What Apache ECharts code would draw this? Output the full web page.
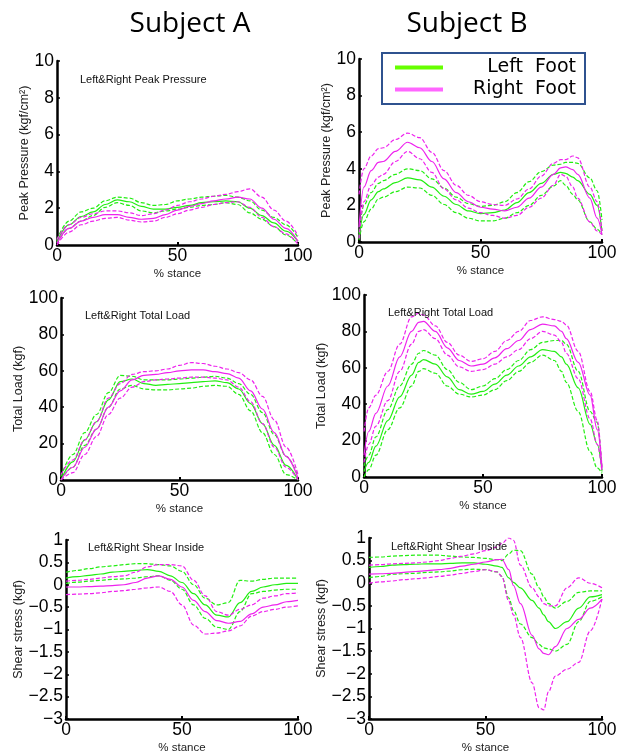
<!DOCTYPE html>
<html>
<head>
<meta charset="utf-8">
<script src="https://cdn.jsdelivr.net/npm/echarts@6/dist/echarts.min.js"></script>
<style>
html, body { margin: 0; padding: 0; background: #fff; }
#main { width: 626px; height: 755px; }
</style>
</head>
<body>
<div id="main"></div>
<script>
// % stance sample points
const stance = [0, 5, 10, 15, 20, 25, 30, 35, 40, 45, 50, 55, 60, 65, 70, 75, 80, 85, 90, 95, 100]
const stancePB = [0, 2, 5, 8, 10, 15, 20, 25, 30, 35, 40, 45, 50, 55, 60, 65, 70, 75, 80, 83, 85, 88, 90, 95, 98, 100]
const stanceLB = [0, 2, 5, 10, 15, 20, 23, 25, 30, 35, 40, 45, 50, 55, 60, 65, 70, 75, 80, 83, 85, 90, 95, 98, 100]
const stanceSB = [0, 5, 10, 15, 20, 25, 30, 35, 40, 45, 50, 55, 57, 60, 62, 65, 70, 73, 75, 77, 80, 85, 90, 95, 100]

// Subject A - peak pressure (kgf/cm2)
const ppA_left = [0.2, 1.1, 1.55, 1.8, 2.2, 2.45, 2.35, 2.1, 1.95, 1.95, 2.05, 2.15, 2.3, 2.35, 2.4, 2.35, 2.0, 1.6, 1.2, 0.75, 0.2]
const ppA_leftUp = [0.3, 1.3, 1.8, 2.0, 2.4, 2.6, 2.55, 2.3, 2.15, 2.2, 2.4, 2.5, 2.6, 2.65, 2.7, 2.6, 2.4, 1.9, 1.5, 1.1, 0.4]
const ppA_leftLo = [0.1, 0.9, 1.3, 1.6, 2.05, 2.3, 2.15, 1.85, 1.75, 1.85, 1.95, 2.05, 2.15, 2.2, 2.3, 2.2, 1.75, 1.4, 1.0, 0.55, 0.05]
const ppA_right = [0.1, 0.9, 1.3, 1.5, 1.65, 1.65, 1.5, 1.4, 1.45, 1.65, 1.9, 2.1, 2.25, 2.4, 2.5, 2.6, 2.5, 2.0, 1.4, 0.9, 0.2]
const ppA_rightUp = [0.3, 1.1, 1.5, 1.7, 1.85, 1.85, 1.75, 1.6, 1.7, 1.9, 2.15, 2.35, 2.5, 2.65, 2.75, 2.9, 3.05, 2.6, 1.9, 1.3, 0.5]
const ppA_rightLo = [0.0, 0.7, 1.1, 1.3, 1.45, 1.5, 1.35, 1.25, 1.3, 1.5, 1.7, 1.9, 2.05, 2.2, 2.3, 2.35, 2.05, 1.5, 1.0, 0.6, 0.05]

// Subject B - peak pressure
const ppB_left = [0.3, 1.5, 2.3, 2.75, 2.9, 3.25, 3.5, 3.4, 3.0, 2.5, 2.05, 1.7, 1.55, 1.6, 1.75, 2.15, 2.7, 3.2, 3.7, 3.8, 3.75, 3.55, 3.35, 2.6, 2.0, 0.6]
const ppB_leftUp = [0.5, 2.0, 2.7, 3.2, 3.35, 3.7, 4.0, 3.9, 3.45, 2.95, 2.45, 2.1, 1.95, 2.0, 2.2, 2.7, 3.3, 3.85, 4.2, 4.25, 4.35, 4.35, 4.3, 3.5, 2.8, 1.2]
const ppB_leftLo = [0.1, 1.1, 1.8, 2.35, 2.45, 2.75, 3.0, 2.95, 2.55, 2.05, 1.6, 1.3, 1.15, 1.15, 1.3, 1.6, 2.0, 2.55, 3.05, 3.35, 3.1, 2.6, 2.3, 1.1, 0.7, 0.4]
const ppB_right = [0.8, 3.0, 3.9, 4.35, 4.4, 4.95, 5.45, 5.15, 4.4, 3.45, 2.7, 2.2, 1.9, 1.8, 1.7, 1.9, 2.4, 3.0, 3.7, 4.05, 4.1, 3.95, 3.7, 2.4, 1.3, 0.4]
const ppB_rightUp = [2.6, 4.0, 4.7, 5.1, 5.15, 5.6, 5.95, 5.7, 4.9, 3.9, 3.1, 2.55, 2.2, 2.05, 2.0, 2.35, 2.9, 3.6, 4.3, 4.5, 4.5, 4.7, 4.6, 3.0, 2.2, 0.6]
const ppB_rightLo = [0.2, 2.2, 3.1, 3.55, 3.7, 4.4, 4.95, 4.55, 3.8, 2.9, 2.3, 1.85, 1.6, 1.45, 1.3, 1.45, 1.9, 2.4, 3.1, 3.7, 3.6, 3.0, 2.4, 1.1, 0.6, 0.4]

// Subject A - total load (kgf)
const tlA_left = [0, 10, 22, 32, 44, 54, 55.5, 53, 52, 52.5, 53, 53.5, 54, 54.5, 53.5, 50, 42, 31, 19, 8, 0]
const tlA_leftUp = [2, 14, 26, 36, 48, 57.5, 57, 55, 55, 55, 55.5, 56, 56.5, 57, 56, 53, 47, 37, 25, 13, 2]
const tlA_leftLo = [0, 7, 19, 28, 40, 50, 52, 50, 49.5, 49.5, 50, 50.5, 51.5, 52, 51.5, 47, 38, 26, 14, 3, 0]
const tlA_right = [0, 7, 18, 28, 40, 49, 55, 57.5, 58, 59, 60, 60.5, 60.5, 59.5, 58.5, 56, 49, 39, 26, 13, 1]
const tlA_rightUp = [3, 11, 22, 32, 45, 53, 58, 59.5, 60, 61, 63, 64.5, 64, 62.5, 61, 59, 55, 46, 33, 18, 3]
const tlA_rightLo = [0, 4, 14, 24, 36, 45, 51, 54, 55, 55.5, 56, 56.5, 56.5, 56, 55, 51, 43, 31, 18, 7, 0]

// Subject B - total load
const tlB_left = [3, 8, 17, 31, 44, 56, 63, 64.5, 62, 55, 48, 45.5, 47, 51, 56, 61, 66, 70, 69, 66, 62, 49, 29, 18, 3]
const tlB_leftUp = [6, 12, 22, 37, 50, 62, 68, 69.5, 67, 59, 52, 48, 50, 54, 59, 64, 70, 74, 75, 75, 73, 58, 36, 30, 4]
const tlB_leftLo = [0, 4, 12, 26, 38, 50, 58, 59.5, 57, 50, 45.5, 44, 45, 48, 53, 58, 63, 67, 64, 58, 52, 36, 14, 5, 2]
const tlB_right = [12, 25, 35, 50, 66, 80, 85, 85.5, 80, 71, 64, 61, 62, 65.5, 70.5, 75, 81, 84, 83, 80, 76, 63, 45, 26, 5]
const tlB_rightUp = [25, 38, 45, 58, 73, 88, 90, 89, 83, 74, 67, 63.5, 65, 69, 75, 80, 86, 88, 86.5, 85.5, 83.5, 69, 47, 31, 5]
const tlB_rightLo = [8, 18, 28, 42, 58, 73, 80, 81, 76, 67, 60.5, 58, 59, 62, 66, 70, 76, 80, 78, 74, 68, 54, 32, 18, 3]

// Subject A - shear inside (kgf)
const shA_left = [0.15, 0.18, 0.21, 0.24, 0.28, 0.3, 0.32, 0.34, 0.3, 0.2, 0.05, -0.2, -0.45, -0.68, -0.72, -0.4, -0.15, -0.05, 0.0, 0.03, 0.03]
const shA_leftUp = [0.28, 0.32, 0.36, 0.4, 0.42, 0.45, 0.47, 0.47, 0.45, 0.42, 0.3, 0.0, -0.3, -0.45, -0.4, 0.1, 0.08, 0.12, 0.15, 0.15, 0.15]
const shA_leftLo = [0.03, 0.06, 0.08, 0.1, 0.12, 0.13, 0.15, 0.18, 0.2, 0.1, -0.1, -0.45, -0.75, -0.95, -1.0, -0.6, -0.2, -0.15, -0.12, -0.1, -0.1]
const shA_right = [-0.05, -0.05, -0.04, -0.03, -0.02, 0.0, 0.05, 0.15, 0.2, 0.12, -0.05, -0.35, -0.6, -0.8, -0.86, -0.82, -0.65, -0.5, -0.45, -0.38, -0.35]
const shA_rightUp = [0.08, 0.1, 0.12, 0.15, 0.18, 0.2, 0.28, 0.4, 0.45, 0.45, 0.42, 0.1, -0.25, -0.6, -0.68, -0.55, -0.45, -0.3, -0.25, -0.2, -0.18]
const shA_rightLo = [-0.22, -0.21, -0.2, -0.18, -0.15, -0.13, -0.1, -0.07, -0.05, -0.15, -0.45, -0.9, -1.1, -1.08, -1.03, -0.92, -0.7, -0.6, -0.55, -0.5, -0.47]

// Subject B - shear inside
const shB_left = [0.35, 0.37, 0.4, 0.41, 0.42, 0.43, 0.43, 0.44, 0.45, 0.45, 0.42, 0.38, 0.35, 0.12, 0.02, -0.1, -0.38, -0.55, -0.7, -0.85, -1.0, -0.85, -0.55, -0.3, -0.25]
const shB_leftUp = [0.57, 0.58, 0.6, 0.61, 0.62, 0.62, 0.62, 0.6, 0.58, 0.57, 0.55, 0.52, 0.5, 0.65, 0.73, 0.72, 0.2, -0.1, -0.3, -0.45, -0.55, -0.4, -0.2, -0.17, -0.17]
const shB_leftLo = [0.12, 0.15, 0.2, 0.21, 0.22, 0.24, 0.25, 0.27, 0.3, 0.31, 0.3, 0.25, 0.15, -0.33, -0.6, -0.9, -1.2, -1.35, -1.43, -1.45, -1.5, -1.35, -0.85, -0.4, -0.3]
const shB_right = [0.2, 0.21, 0.22, 0.24, 0.26, 0.28, 0.3, 0.33, 0.38, 0.42, 0.47, 0.52, 0.53, 0.3, -0.05, -0.45, -1.15, -1.45, -1.55, -1.58, -1.4, -1.0, -0.8, -0.55, -0.35]
const shB_rightUp = [0.4, 0.41, 0.43, 0.44, 0.45, 0.47, 0.5, 0.55, 0.6, 0.65, 0.72, 0.8, 0.88, 1.0, 0.95, 0.4, -0.1, -0.3, -0.45, -0.5, -0.5, -0.1, 0.12, 0.0, -0.1]
const shB_rightLo = [0.0, 0.03, 0.05, 0.08, 0.1, 0.12, 0.15, 0.18, 0.22, 0.26, 0.3, 0.25, 0.15, -0.4, -0.7, -1.2, -2.2, -2.75, -2.8, -2.4, -2.05, -1.9, -1.75, -1.05, -0.35]

const GREEN = '#22ee11'
const MAGENTA = '#ee22ee'
const FONT = 'Liberation Sans'

// grid boxes in px: [left, top, width, height]
const panels = [
  { box: [57, 61, 241, 184], min: 0, max: 10, step: 2, yName: 'Peak Pressure (kgf/cm²)', yGap: 26, title: 'Left&Right Peak Pressure', tx: 80, ty: 80,
    xs: stance, L: [ppA_left, ppA_leftUp, ppA_leftLo], R: [ppA_right, ppA_rightUp, ppA_rightLo] },
  { box: [359, 59, 243, 183], min: 0, max: 10, step: 2, yName: 'Peak Pressure (kgf/cm²)', yGap: 25, title: '', tx: 0, ty: 0,
    xs: stancePB, L: [ppB_left, ppB_leftUp, ppB_leftLo], R: [ppB_right, ppB_rightUp, ppB_rightLo] },
  { box: [61, 298, 237, 182], min: 0, max: 100, step: 20, yName: 'Total Load (kgf)', yGap: 34, title: 'Left&Right Total Load', tx: 85, ty: 316,
    xs: stance, L: [tlA_left, tlA_leftUp, tlA_leftLo], R: [tlA_right, tlA_rightUp, tlA_rightLo] },
  { box: [364, 295, 238, 182], min: 0, max: 100, step: 20, yName: 'Total Load (kgf)', yGap: 32, title: 'Left&Right Total Load', tx: 388, ty: 313,
    xs: stanceLB, L: [tlB_left, tlB_leftUp, tlB_leftLo], R: [tlB_right, tlB_rightUp, tlB_rightLo] },
  { box: [66, 540, 232, 183], min: -3, max: 1, step: 0.5, yName: 'Shear stress (kgf)', yGap: 37, title: 'Left&Right Shear Inside', tx: 88, ty: 548,
    xs: stance, L: [shA_left, shA_leftUp, shA_leftLo], R: [shA_right, shA_rightUp, shA_rightLo] },
  { box: [369, 538, 233, 182], min: -3, max: 1, step: 0.5, yName: 'Shear stress (kgf)', yGap: 37, title: 'Left&Right Shear Inside', tx: 391, ty: 547,
    xs: stanceSB, L: [shB_left, shB_leftUp, shB_leftLo], R: [shB_right, shB_rightUp, shB_rightLo] }
]

function pairs(xs, ys) {
  return xs.map((x, i) => [x, ys[i]])
}

const grid = []
const xAxis = []
const yAxis = []
const series = []
const graphic = [
  { type: 'text', style: { x: 190, y: 24, text: 'Subject A', font: '28px "Open Sans"', fill: '#000', textAlign: 'center', textVerticalAlign: 'middle' } },
  { type: 'text', style: { x: 467, y: 24, text: 'Subject B', font: '28px "Open Sans"', fill: '#000', textAlign: 'center', textVerticalAlign: 'middle' } }
]

panels.forEach((p, i) => {
  grid.push({ left: p.box[0], top: p.box[1], width: p.box[2], height: p.box[3] })
  xAxis.push({
    gridIndex: i, type: 'value', min: 0, max: 100, interval: 50,
    name: '% stance', nameLocation: 'middle', nameGap: 23,
    nameTextStyle: { fontFamily: FONT, fontSize: 11.5, color: '#222' },
    axisLine: { onZero: false, lineStyle: { color: '#000', width: 2.5 } },
    axisTick: { inside: true, length: 3, lineStyle: { color: '#000', width: 2 } },
    axisLabel: { color: '#000', fontFamily: FONT, fontSize: 17.5, margin: 2 },
    splitLine: { show: false }
  })
  yAxis.push({
    gridIndex: i, type: 'value', min: p.min, max: p.max, interval: p.step,
    name: p.yName, nameLocation: 'middle', nameGap: p.yGap,
    nameTextStyle: { fontFamily: FONT, fontSize: 12.5, color: '#222' },
    axisLine: { show: true, onZero: false, lineStyle: { color: '#000', width: 2.5 } },
    axisTick: { show: true, inside: true, length: 3, lineStyle: { color: '#000', width: 1.5 } },
    axisLabel: { color: '#000', fontFamily: FONT, fontSize: 17.5, margin: 3,
      formatter: v => String(v).replace('-', '\u2212') },
    splitLine: { show: false }
  })
  if (p.title) {
    graphic.push({ type: 'text', z: 10, style: { x: p.tx, y: p.ty, text: p.title, font: '11px "Liberation Sans"', fill: '#111', textVerticalAlign: 'middle' } })
  }
  const sets = [['Left Foot', GREEN, p.L], ['Right Foot', MAGENTA, p.R]]
  sets.forEach(([name, color, arr]) => {
    arr.forEach((ys, k) => {
      series.push({
        name: k === 0 ? name : name + (k === 1 ? ' +SD' : ' -SD'),
        type: 'line', xAxisIndex: i, yAxisIndex: i,
        data: pairs(p.xs, ys),
        showSymbol: false, smooth: 0.35, smoothMonotone: 'x',
        lineStyle: { color: color, width: 1.2, type: k === 0 ? 'solid' : [4, 2] },
        itemStyle: { color: color },
        silent: true
      })
    })
  })
})

const myChart = echarts.init(document.getElementById('main'))
myChart.setOption({
  animation: false,
  backgroundColor: '#fff',
  grid: grid,
  xAxis: xAxis,
  yAxis: yAxis,
  graphic: graphic,
  legend: {
    orient: 'vertical', left: 382, top: 53, z: 20,
    backgroundColor: '#fff', borderColor: '#2f528f', borderWidth: 2,
    padding: [5, 9, 5, 13], itemGap: 3,
    itemWidth: 48, itemHeight: 4, icon: 'rect',
    data: [
      { name: 'Left Foot', itemStyle: { color: '#66ff00' } },
      { name: 'Right Foot', itemStyle: { color: '#ff66ff' } }
    ],
    formatter: n => '{r|' + n.replace(' ', '  ') + '}',
    textStyle: {
      rich: { r: { width: 128, align: 'right', fontFamily: 'DejaVu Sans', fontSize: 19, lineHeight: 21, color: '#000' } }
    },
    selectedMode: false
  },
  series: series
})
</script>
</body>
</html>
